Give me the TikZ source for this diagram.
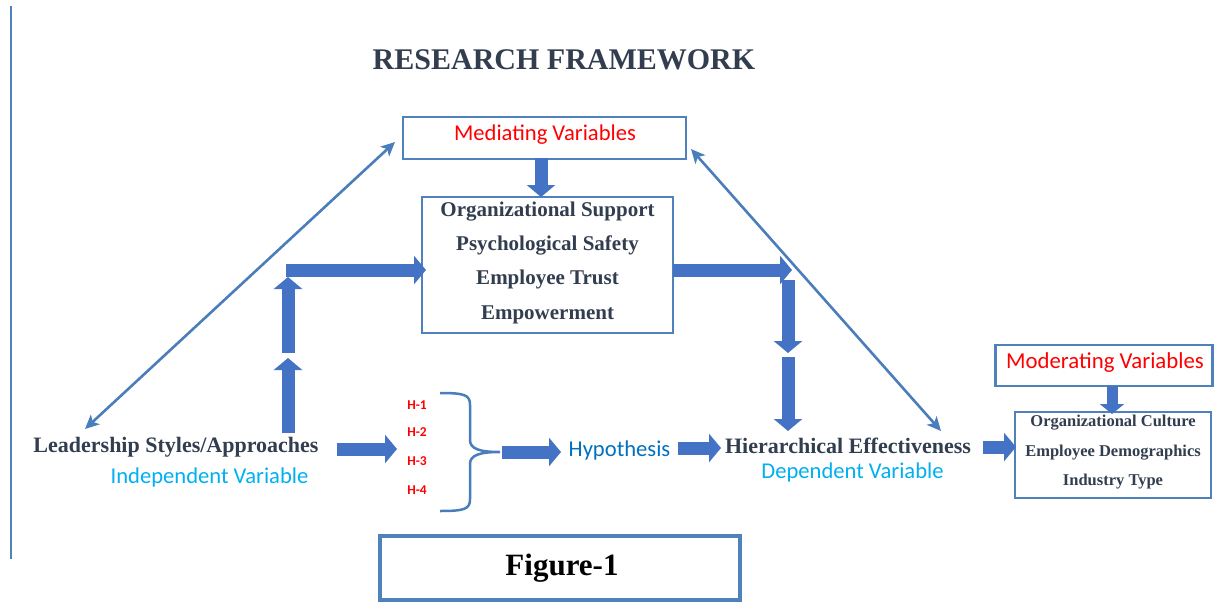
\documentclass[tikz,border=0pt]{standalone}
\usepackage{fontspec}
\setmainfont{Liberation Serif}
\newfontfamily\calfont{Carlito}
\usetikzlibrary{arrows.meta}
\definecolor{arrowblue}{HTML}{4472C4}
\definecolor{boxblue}{HTML}{4F81BD}
\definecolor{thinblue}{HTML}{4A7EBB}
\definecolor{darktext}{HTML}{323E4F}
\definecolor{ivblue}{HTML}{00B0F0}
\definecolor{hypblue}{HTML}{0070C0}
\definecolor{redtext}{HTML}{FF0000}
\begin{document}
\begin{tikzpicture}[x=1pt,y=-1pt,
  fat/.style={draw=arrowblue, line width=13pt, -{Triangle[length=12pt,width=28pt]}},
  fatsmall/.style={draw=arrowblue, line width=11pt, -{Triangle[length=10pt,width=24pt]}},
  thinarrow/.style={draw=thinblue, line width=2.6pt, {Stealth[length=14pt,width=13pt,inset=3.5pt]}-{Stealth[length=14pt,width=13pt,inset=3.5pt]}},
  boxstyle/.style={draw=boxblue, line width=2.5pt, inner sep=0pt, fill=white},
  serifbold/.style={text=darktext, font=\bfseries\fontsize{22}{26}\selectfont},
  caltext/.style={font=\calfont\fontsize{22.6}{26}\selectfont},
  hlabel/.style={text=redtext, font=\calfont\bfseries\fontsize{13.5}{15}\selectfont}
]
\useasboundingbox (0,0) rectangle (1214,602);
\fill[white] (0,0) rectangle (1214,602);

% left rule
\coordinate (ruletop) at (11,6);
\coordinate (rulebot) at (11,559);
\draw[boxblue, line width=1.3pt] (ruletop) -- (rulebot);

% title
\node[text=darktext, font=\bfseries\fontsize{30}{36}\selectfont] (title) at (564,60) {RESEARCH FRAMEWORK};

% mediating variables box
\node[boxstyle, minimum width=283pt, minimum height=42pt] (mv) at (544.5,138) {};
\node[caltext, text=redtext] (mvtext) at (545,135) {Mediating Variables};

% central box
\node[boxstyle, minimum width=251pt, minimum height=136pt] (cb) at (547.5,265) {};
\node[text=darktext, font=\bfseries\fontsize{21}{34.3}\selectfont, align=center, inner sep=0pt] (cbtext) at (547.5,262.5)
  {Organizational Support\\Psychological Safety\\Employee Trust\\Empowerment};

% leadership
\node[serifbold, inner sep=0pt] (lead) at (176,447) {Leadership Styles/Approaches};
\node[caltext, text=ivblue, inner sep=0pt] (iv) at (209.5,477) {Independent Variable};

% hypotheses
\node[hlabel] (h1) at (417,405) {H-1};
\node[hlabel] (h2) at (417,432) {H-2};
\node[hlabel] (h3) at (417,461) {H-3};
\node[hlabel] (h4) at (417,490) {H-4};

\coordinate (bracetop) at (440,393);
\coordinate (bracetip) at (500,452);
\coordinate (bracebot) at (440,511);
\draw[thinblue, line width=2.5pt] (bracetop) .. controls (465,393) and (470,395) .. (470,405) -- (470,440)
  .. controls (470,449) and (480,452) .. (bracetip)
  .. controls (480,452) and (470,455) .. (470,464) -- (470,499)
  .. controls (470,509) and (465,511) .. (bracebot);

\node[caltext, text=hypblue, inner sep=0pt] (hyp) at (619.5,450) {Hypothesis};

% hierarchical effectiveness
\node[serifbold, inner sep=0pt] (hier) at (848,446) {Hierarchical Effectiveness};
\node[caltext, text=ivblue, inner sep=0pt] (dv) at (852.5,472) {Dependent Variable};

% moderating
\node[boxstyle, minimum width=217pt, minimum height=41pt] (modv) at (1104,365.5) {};
\node[text=redtext, font=\calfont\fontsize{22.8}{26}\selectfont] (modtext) at (1105,363) {Moderating Variables};
\node[boxstyle, minimum width=196pt, minimum height=86pt] (rb) at (1113,455) {};
\node[text=darktext, font=\bfseries\fontsize{16.5}{29.5}\selectfont, align=center, inner sep=0pt] (rbtext) at (1113,452.5)
  {Organizational Culture\\Employee Demographics\\Industry Type};

% figure box
\node[draw=boxblue, line width=4pt, minimum width=360pt, minimum height=64pt, inner sep=0pt] (figbox) at (560,568) {};
\node[text=black, font=\bfseries\fontsize{31}{36}\selectfont] (figtext) at (562,568) {Figure-1};

% fat arrow coordinates
\coordinate (a1s) at (541,158);
\coordinate (a1e) at (541,197);
\coordinate (up1s) at (288,433);
\coordinate (up1e) at (288,358);
\coordinate (up2s) at (288,353);
\coordinate (up2e) at (288,277);
\coordinate (hls) at (286,270);
\coordinate (hle) at (426,270);
\coordinate (hrs) at (673,270);
\coordinate (hre) at (792,270);
\coordinate (dn1s) at (788,280);
\coordinate (dn1e) at (788,353);
\coordinate (dn2s) at (788,357);
\coordinate (dn2e) at (788,431);
\coordinate (lhs) at (337,449);
\coordinate (lhe) at (397,449);
\coordinate (bhs) at (502,452);
\coordinate (bhe) at (561,452);
\coordinate (hhs) at (678,448);
\coordinate (hhe) at (721,448);
\coordinate (hrbs) at (983,447);
\coordinate (hrbe) at (1016,447);
\coordinate (mds) at (1112,386);
\coordinate (mde) at (1112,414);

\draw[fat] (a1s) -- (a1e);
\draw[fat] (up1s) -- (up1e);
\draw[fat] (up2s) -- (up2e);
\draw[fat] (hls) -- (hle);
\draw[fat] (hrs) -- (hre);
\draw[fat] (dn1s) -- (dn1e);
\draw[fat] (dn2s) -- (dn2e);
\draw[fat] (lhs) -- (lhe);
\draw[fat] (bhs) -- (bhe);
\draw[fat] (hhs) -- (hhe);
\draw[fat] (hrbs) -- (hrbe);
\draw[fatsmall] (mds) -- (mde);

% thin double arrows
\coordinate (tl1) at (395,142);
\coordinate (tl2) at (85,429);
\coordinate (tr1) at (691,149);
\coordinate (tr2) at (941,431);
\draw[thinarrow] (tl2) -- (tl1);
\draw[thinarrow] (tr1) -- (tr2);
\end{tikzpicture}
\end{document}
